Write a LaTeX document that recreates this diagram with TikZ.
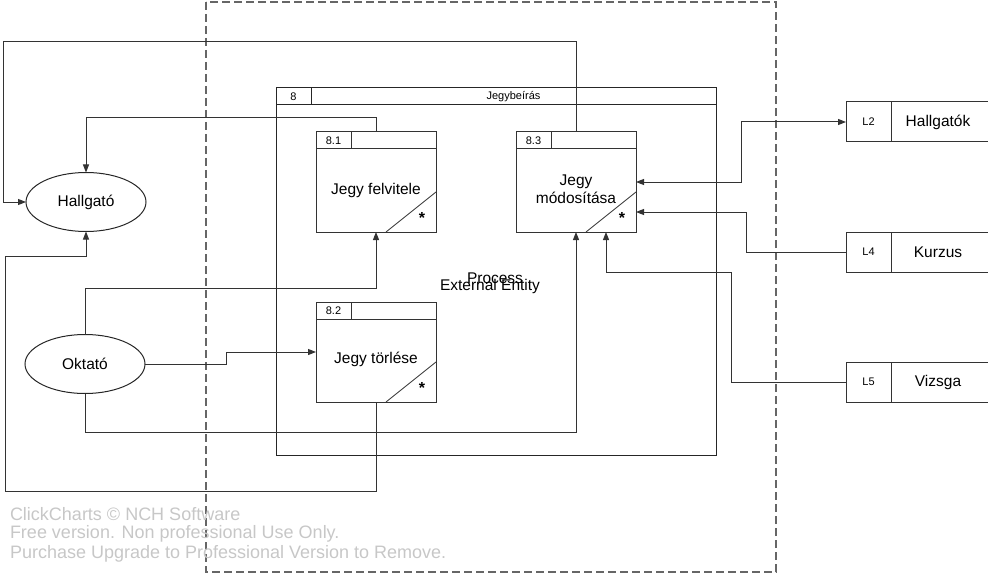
\documentclass[tikz,border=0pt]{standalone}
\usepackage{fontspec}
\setmainfont{Liberation Sans}
\usetikzlibrary{arrows.meta, positioning, calc, shapes.geometric}

\begin{document}
\begin{tikzpicture}[
    x=1pt, y=-1pt,
    every node/.style={inner sep=0pt, outer sep=0pt, font=\fontsize{15.5}{18}\selectfont},
    entitas/.style={ellipse, draw=black!85, line width=1pt, minimum width=120pt, minimum height=59pt},
    folyamat/.style={rectangle, draw=black!80, line width=1pt, minimum width=120pt, minimum height=100pt, anchor=north west},
    fofolyamat/.style={rectangle, draw=black!85, line width=1pt, minimum width=440pt, minimum height=367pt, anchor=north west},
    tarolo/.style={rectangle, draw=black!80, line width=1pt, minimum width=45pt, minimum height=40pt, anchor=north west, font=\fontsize{11}{13}\selectfont},
    kicsi/.style={font=\fontsize{11}{13}\selectfont},
    nyil/.style={draw=black!80, line width=1pt, -{Triangle[length=8pt, width=6pt]}},
    ketiranyu/.style={draw=black!80, line width=1pt, {Triangle[length=8pt, width=6pt]}-{Triangle[length=8pt, width=6pt]}},
    vizjel/.style={anchor=west, text=black!22, font=\fontsize{18}{21}\selectfont}
]
    \useasboundingbox (0,0) rectangle (988,575);

    % rendszerhatar
    \draw [black!60, line width=1.2pt, dash pattern=on 8pt off 4pt] (206,2) rectangle (776,572);

    % fo folyamat
    \node [fofolyamat] (p8) at (276,88) {};
    \draw [black!85, line width=1pt] ([yshift=-17pt]p8.north west) -- ([yshift=-17pt]p8.north east);
    \draw [black!85, line width=1pt] ([xshift=35pt]p8.north west) -- ++(0,17);
    \node [kicsi] (p8-id) at ([xshift=17.5pt, yshift=-8.5pt]p8.north west) {8};
    \node [kicsi] (p8-nev) at ([xshift=237.5pt, yshift=-8.5pt]p8.north west) {Jegybeírás};

    % alfolyamatok
    \node [folyamat] (p81) at (316,132) {};
    \node [folyamat] (p82) at (316,302) {};
    \node [folyamat] (p83) at (516,132) {};
    \node (p81-nev) at ([yshift=-8pt]p81.center) {Jegy felvitele};
    \node (p82-nev) at ([yshift=-7pt]p82.center) {Jegy törlése};
    \node [align=center] (p83-nev) at ([yshift=-7pt]p83.center) {Jegy\\módosítása};

    \foreach \n/\id in {p81/8.1, p82/8.2, p83/8.3} {
        \draw [black!80, line width=1pt] ([yshift=-17pt]\n.north west) -- ([yshift=-17pt]\n.north east);
        \draw [black!80, line width=1pt] ([xshift=35pt]\n.north west) -- ++(0,17);
        \node [kicsi] (\n-id) at ([xshift=17.5pt, yshift=-8.5pt]\n.north west) {\id};
        \draw [black!80, line width=0.8pt] ([xshift=-50pt]\n.south east) -- ([yshift=40pt]\n.south east);
        \node [font=\fontsize{16}{18}\selectfont\bfseries] (\n-csillag) at ([xshift=-14pt, yshift=14pt]\n.south east) {*};
    }

    % kulso entitasok
    \node [entitas] (hallgato) at (86,202) {Hallgató};
    \node [entitas] (oktato) at (85,364) {Oktató};

    % adattarak
    \node [tarolo] (l2) at (846,102) {L2};
    \node [tarolo] (l4) at (846,232) {L4};
    \node [tarolo] (l5) at (846,362) {L5};
    \foreach \t/\nev in {l2/Hallgatók, l4/Kurzus, l5/Vizsga} {
        \draw [black!80, line width=1pt] (\t.north east) -- ++(97,0);
        \draw [black!80, line width=1pt] (\t.south east) -- ++(97,0);
        \node (\t-nev) at ([xshift=47pt]\t.east) {\nev};
    }

    % tipus feliratok
    \node (tipus1) at (495,278) {Process};
    \node (tipus2) at (490,286) {External Entity};

    % adatfolyamok
    \coordinate (bal2) at (5,491);
    \draw [nyil] (p83.north) -- ++(0,-90) -| ([xshift=-23pt]hallgato.west) -- (hallgato.west);
    \draw [nyil] (p81.north) -- ++(0,-14) -| (hallgato.north);
    \draw [nyil] (p82.south) |- (bal2) |- ([yshift=-25pt]hallgato.south) -- (hallgato.south);

    \draw [nyil] (oktato.north) |- ([yshift=-56pt]p81.south) -- (p81.south);
    \draw [nyil] (oktato.east) -- ++(81,0) |- (p82.west);
    \draw [nyil] (oktato.south) |- ([yshift=-200pt]p83.south) -- (p83.south);

    \draw [ketiranyu] (p83.east) -- ++(105,0) |- (l2.west);
    \draw [nyil] (l4.west) -- ++(-100,0) |- ([yshift=-30pt]p83.east);
    \draw [nyil] (l5.west) -- ++(-115,0) |- ([xshift=30pt, yshift=-40pt]p83.south) -- ([xshift=30pt]p83.south);

    % vizjel
    \node [vizjel] (vizjel1) at (10,514) {ClickCharts © NCH Software};
    \node [vizjel] (vizjel2) at (10,534) {Free version. Non professional Use Only.};
    \node [vizjel] (vizjel3) at (10,554) {Purchase Upgrade to Professional Version to Remove.};

\end{tikzpicture}
\end{document}
